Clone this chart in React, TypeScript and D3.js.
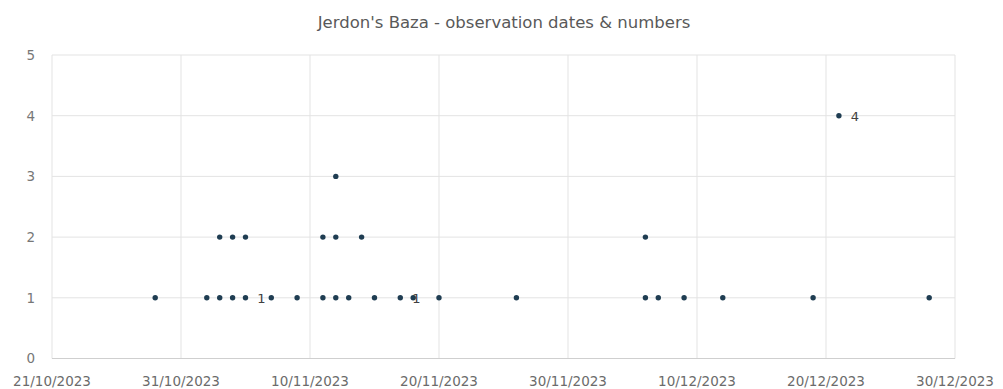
import React from "react";
import * as d3 from "d3";

const TITLE = "Jerdon's Baza - observation dates & numbers";

const obsDates: string[] = [
  "2023-10-29",
  "2023-11-02",
  "2023-11-03", "2023-11-03",
  "2023-11-04", "2023-11-04",
  "2023-11-05", "2023-11-05",
  "2023-11-07",
  "2023-11-09",
  "2023-11-11", "2023-11-11",
  "2023-11-12", "2023-11-12", "2023-11-12",
  "2023-11-13",
  "2023-11-14",
  "2023-11-15",
  "2023-11-17",
  "2023-11-18",
  "2023-11-20",
  "2023-11-26",
  "2023-12-06", "2023-12-06",
  "2023-12-07",
  "2023-12-09",
  "2023-12-12",
  "2023-12-19",
  "2023-12-21",
  "2023-12-28",
];

const obsCounts: number[] = [
  1,
  1,
  1, 2,
  1, 2,
  1, 2,
  1,
  1,
  1, 2,
  1, 2, 3,
  1,
  2,
  1,
  1,
  1,
  1,
  1,
  1, 2,
  1,
  1,
  1,
  1,
  4,
  1,
];

// indices of points that carry a data label
const labelledIdx: number[] = [6, 18, 28];

const xTickDates: string[] = [
  "2023-10-21", "2023-10-31", "2023-11-10", "2023-11-20",
  "2023-11-30", "2023-12-10", "2023-12-20", "2023-12-30",
];
const yTicks: number[] = [0, 1, 2, 3, 4, 5];

const W = 1003;
const H = 389;
const FONT = "DejaVu Sans, sans-serif";

export default function App() {
  const parse = d3.utcParse("%Y-%m-%d");
  const fmt = d3.utcFormat("%d/%m/%Y");
  const xDom = [parse(xTickDates[0])!, parse(xTickDates[xTickDates.length - 1])!];
  const x = d3.scaleUtc().domain(xDom).range([52, 955]);
  const y = d3.scaleLinear().domain([0, 5]).range([358.5, 55]);
  const pts = obsDates.map((d, i) => ({ date: parse(d)!, v: obsCounts[i], i }));

  return (
    <svg
      width={W}
      height={H}
      style={{ position: "absolute", left: 0, top: 0, background: "#fff" }}
    >
      <rect x={0} y={0} width={W} height={H} fill="#fff" />
      <text
        x={504}
        y={28}
        textAnchor="middle"
        fontFamily={FONT}
        fontSize={16.5}
        fill="#595959"
      >
        {TITLE}
      </text>
      {yTicks.map((t) => (
        <g key={"y" + t}>
          {t > 0 && (
            <line
              x1={52}
              x2={955}
              y1={y(t)}
              y2={y(t)}
              stroke="#e3e3e3"
              strokeWidth={1}
            />
          )}
          <text
            x={35}
            y={y(t)}
            dy="0.36em"
            textAnchor="end"
            fontFamily={FONT}
            fontSize={13.5}
            fill="#777"
          >
            {t}
          </text>
        </g>
      ))}
      {xTickDates.map((s) => {
        const d = parse(s)!;
        return (
          <g key={s}>
            <line
              x1={x(d)}
              x2={x(d)}
              y1={y(5)}
              y2={y(0)}
              stroke="#e3e3e3"
              strokeWidth={1}
            />
            <text
              x={x(d)}
              y={386}
              textAnchor="middle"
              fontFamily={FONT}
              fontSize={13.5}
              fill="#6b6b6b"
            >
              {fmt(d)}
            </text>
          </g>
        );
      })}
      <line x1={52} x2={955} y1={y(0)} y2={y(0)} stroke="#cfcfcf" strokeWidth={1} />
      {pts.map((p) => (
        <circle key={"p" + p.i} cx={x(p.date)} cy={y(p.v)} r={2.7} fill="#1f3d52" />
      ))}
      {labelledIdx.map((i) => {
        const p = pts[i];
        return (
          <text
            key={"l" + i}
            x={x(p.date) + 16}
            y={y(p.v)}
            dy="0.4em"
            textAnchor="middle"
            fontFamily={FONT}
            fontSize={13}
            fill="#404040"
          >
            {p.v}
          </text>
        );
      })}
    </svg>
  );
}
